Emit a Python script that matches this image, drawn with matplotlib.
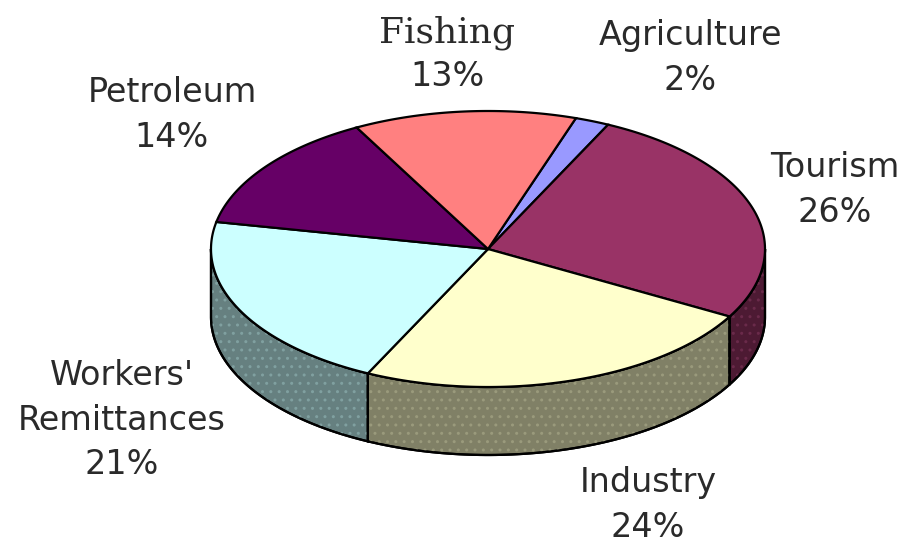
import numpy as np
import matplotlib.pyplot as plt
from matplotlib.patches import Polygon

# slices, clockwise from the top
labels = ['Agriculture', 'Tourism', 'Industry', "Workers'\nRemittances", 'Petroleum', 'Fishing']
shares = [2, 26, 24, 21, 14, 13]
top_colors = ['#9999ff', '#993366', '#ffffcc', '#ccffff', '#660066', '#ff8080']
side_colors = ['#4d4d80', '#4d1a33', '#808066', '#668080', '#330033', '#804040']
dot_colors = ['#7070a0', '#6a2a4a', '#9a9a7c', '#80a0a0', '#4a104a', '#a06060']
label_pos = [(690, 58), (835, 190), (648, 505), (122, 420), (172, 115), (447, 55)]

# pie geometry (pixel space)
cx, cy, rx, ry, depth = 488, 249, 277, 138, 68
start = 71.5


def ell(t, dz=0.0):
    r = np.radians(t)
    return np.column_stack([cx + rx * np.cos(r), cy - ry * np.sin(r) + dz])


fig = plt.figure(figsize=(9.11, 5.52), dpi=100)
ax = fig.add_axes([0, 0, 1, 1])
ax.set_xlim(0, 911)
ax.set_ylim(552, 0)
ax.axis('off')

bounds = start - np.concatenate([[0], np.cumsum(shares)]) * 3.6

# side walls (front half only)
for i in range(len(shares)):
    a0, a1 = bounds[i], bounds[i + 1]
    hi, lo = min(a0, 0), max(a1, -180)
    if hi <= lo:
        continue
    t = np.linspace(hi, lo, 80)
    pts = np.vstack([ell(t), ell(t[::-1], depth)])
    ax.add_patch(Polygon(pts, closed=True, facecolor=side_colors[i],
                         edgecolor='black', lw=1.6, zorder=1))
    ax.add_patch(Polygon(pts, closed=True, facecolor='none', hatch='..',
                         edgecolor=dot_colors[i], lw=0, zorder=1.5))
    ax.add_patch(Polygon(pts, closed=True, facecolor='none',
                         edgecolor='black', lw=1.6, zorder=1.6))

# top face wedges
for i in range(len(shares)):
    t = np.linspace(bounds[i], bounds[i + 1], 120)
    pts = np.vstack([[cx, cy], ell(t)])
    ax.add_patch(Polygon(pts, closed=True, facecolor=top_colors[i],
                         edgecolor='black', lw=1.6, zorder=2))

# labels
for i, lab in enumerate(labels):
    x, y = label_pos[i]
    if lab == 'Fishing':
        ax.text(x, y - 22, lab, ha='center', va='center', fontsize=26,
                family='DejaVu Serif', color='#2a2a2a', zorder=3)
        ax.text(x, y + 22, f'{shares[i]}%', ha='center', va='center', fontsize=24,
                family='DejaVu Sans', color='#2a2a2a', zorder=3)
        continue
    ax.text(x, y, f'{lab}\n{shares[i]}%',
            ha='center', va='center', multialignment='center',
            fontsize=24, family='DejaVu Sans',
            color='#2a2a2a', linespacing=1.45, zorder=3)

fig.savefig('out.png', dpi=100)
